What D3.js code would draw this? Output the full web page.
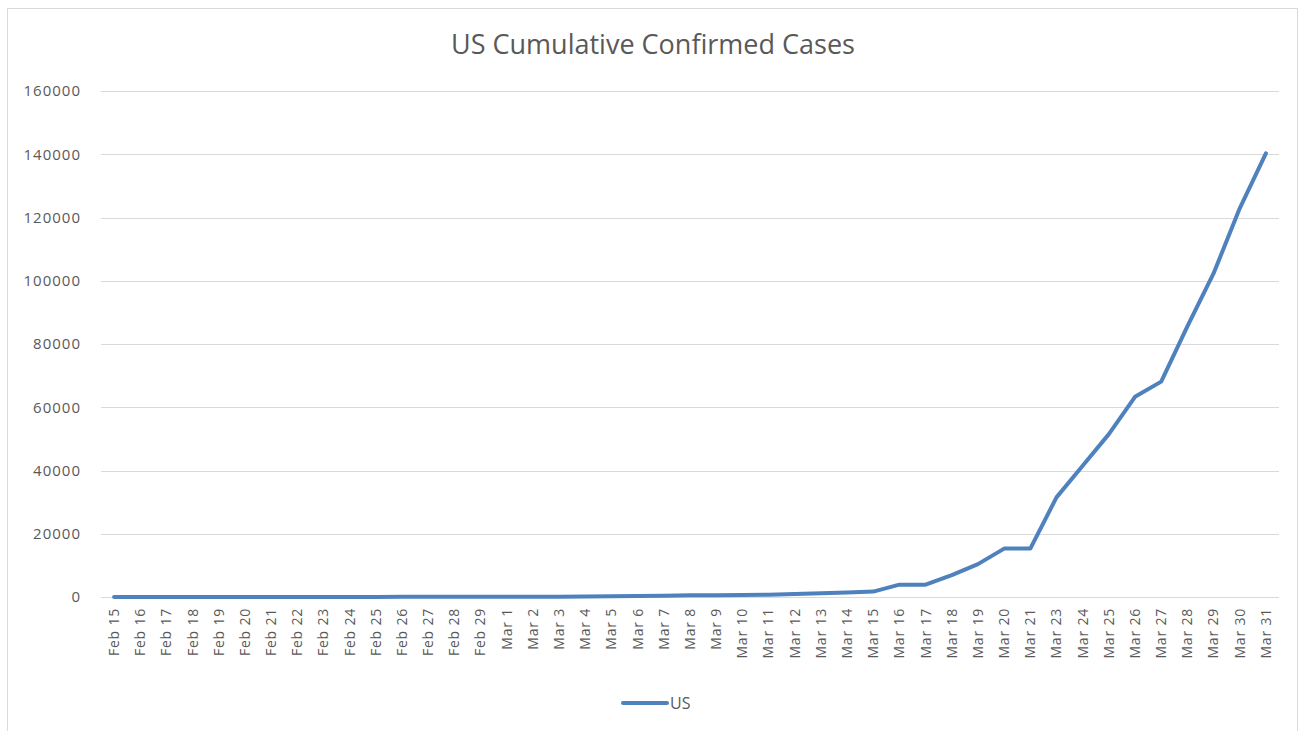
<!DOCTYPE html>
<html>
<head>
  <meta charset="UTF-8">
  <style>
    body {
        margin: 0;
        background: #fff;
        font-family: "Open Sans", "Noto Sans", sans-serif;
    }
    .grid line {
        stroke: #d9d9d9;
        stroke-width: 1px;
    }
    .tick-label {
        font-size: 14px;
        fill: #595959;
        letter-spacing: 0.8px;
    }
    .y-label {
        font-size: 15px;
        letter-spacing: 1px;
    }
    .title {
        font-size: 27px;
        fill: #595959;
    }
  </style>
</head>
<body>
<svg width="1306" height="731"></svg>

<script src="https://d3js.org/d3.v7.min.js"></script>
<script>

// categories (note: Mar 22 is absent in the source chart)
const dates = [
  "Feb 15","Feb 16","Feb 17","Feb 18","Feb 19","Feb 20","Feb 21","Feb 22","Feb 23","Feb 24",
  "Feb 25","Feb 26","Feb 27","Feb 28","Feb 29",
  "Mar 1","Mar 2","Mar 3","Mar 4","Mar 5","Mar 6","Mar 7","Mar 8","Mar 9","Mar 10",
  "Mar 11","Mar 12","Mar 13","Mar 14","Mar 15","Mar 16","Mar 17","Mar 18","Mar 19","Mar 20",
  "Mar 21","Mar 23","Mar 24","Mar 25","Mar 26","Mar 27","Mar 28","Mar 29","Mar 30","Mar 31"
];

// US cumulative confirmed cases
const usCases = [
  15, 15, 15, 15, 15, 15, 15, 15, 35, 35,
  35, 53, 57, 60, 66,
  70, 90, 110, 150, 220, 300, 420, 520, 580, 650,
  750, 950, 1150, 1450, 1700, 3900, 3900, 6900, 10400, 15300,
  15300, 31500, 41500, 51500, 63300, 68100, 85600, 102300, 122900, 140300
];

const yTicks = [0, 20000, 40000, 60000, 80000, 100000, 120000, 140000, 160000];

const svg = d3.select("svg");

// outer chart frame
svg.append("rect")
  .attr("x", 7.5).attr("y", 8.5)
  .attr("width", 1290).attr("height", 740)
  .attr("fill", "#fff")
  .attr("stroke", "#d9d9d9");

const plot = {left: 101, right: 1279, top: 91, bottom: 597};

const x = d3.scalePoint()
  .domain(dates)
  .range([plot.left, plot.right])
  .padding(0.5);

const y = d3.scaleLinear()
  .domain([0, 160000])
  .range([plot.bottom, plot.top]);

// title
svg.append("text")
  .attr("class", "title")
  .attr("x", 653)
  .attr("y", 54)
  .attr("text-anchor", "middle")
  .text("US Cumulative Confirmed Cases");

// gridlines
svg.append("g")
  .attr("class", "grid")
  .selectAll("line")
  .data(yTicks)
  .join("line")
    .attr("x1", plot.left)
    .attr("x2", plot.right)
    .attr("y1", d => Math.round(y(d)) + 0.5)
    .attr("y2", d => Math.round(y(d)) + 0.5);

// y axis labels
svg.append("g")
  .selectAll("text")
  .data(yTicks)
  .join("text")
    .attr("class", "tick-label y-label")
    .attr("x", 81)
    .attr("y", d => y(d))
    .attr("dy", "0.35em")
    .attr("text-anchor", "end")
    .text(d => d);

// x axis labels, rotated
svg.append("g")
  .selectAll("text")
  .data(dates)
  .join("text")
    .attr("class", "tick-label")
    .attr("transform", d => "translate(" + x(d) + ",608) rotate(-90)")
    .attr("dy", "0.35em")
    .attr("text-anchor", "end")
    .text(d => d);

// the series
const line = d3.line()
  .x((d, i) => x(dates[i]))
  .y(d => y(d));

svg.append("path")
  .datum(usCases)
  .attr("fill", "none")
  .attr("stroke", "#4f81bd")
  .attr("stroke-width", 4)
  .attr("stroke-linejoin", "round")
  .attr("stroke-linecap", "round")
  .attr("d", line);

// legend
svg.append("line")
  .attr("x1", 623).attr("x2", 667)
  .attr("y1", 703).attr("y2", 703)
  .attr("stroke", "#4f81bd")
  .attr("stroke-width", 4)
  .attr("stroke-linecap", "round");

svg.append("text")
  .attr("class", "tick-label")
  .attr("x", 670)
  .attr("y", 703)
  .attr("dy", "0.35em")
  .style("font-size", "16px")
  .style("letter-spacing", "0px")
  .text("US");

</script>
</body>
</html>
